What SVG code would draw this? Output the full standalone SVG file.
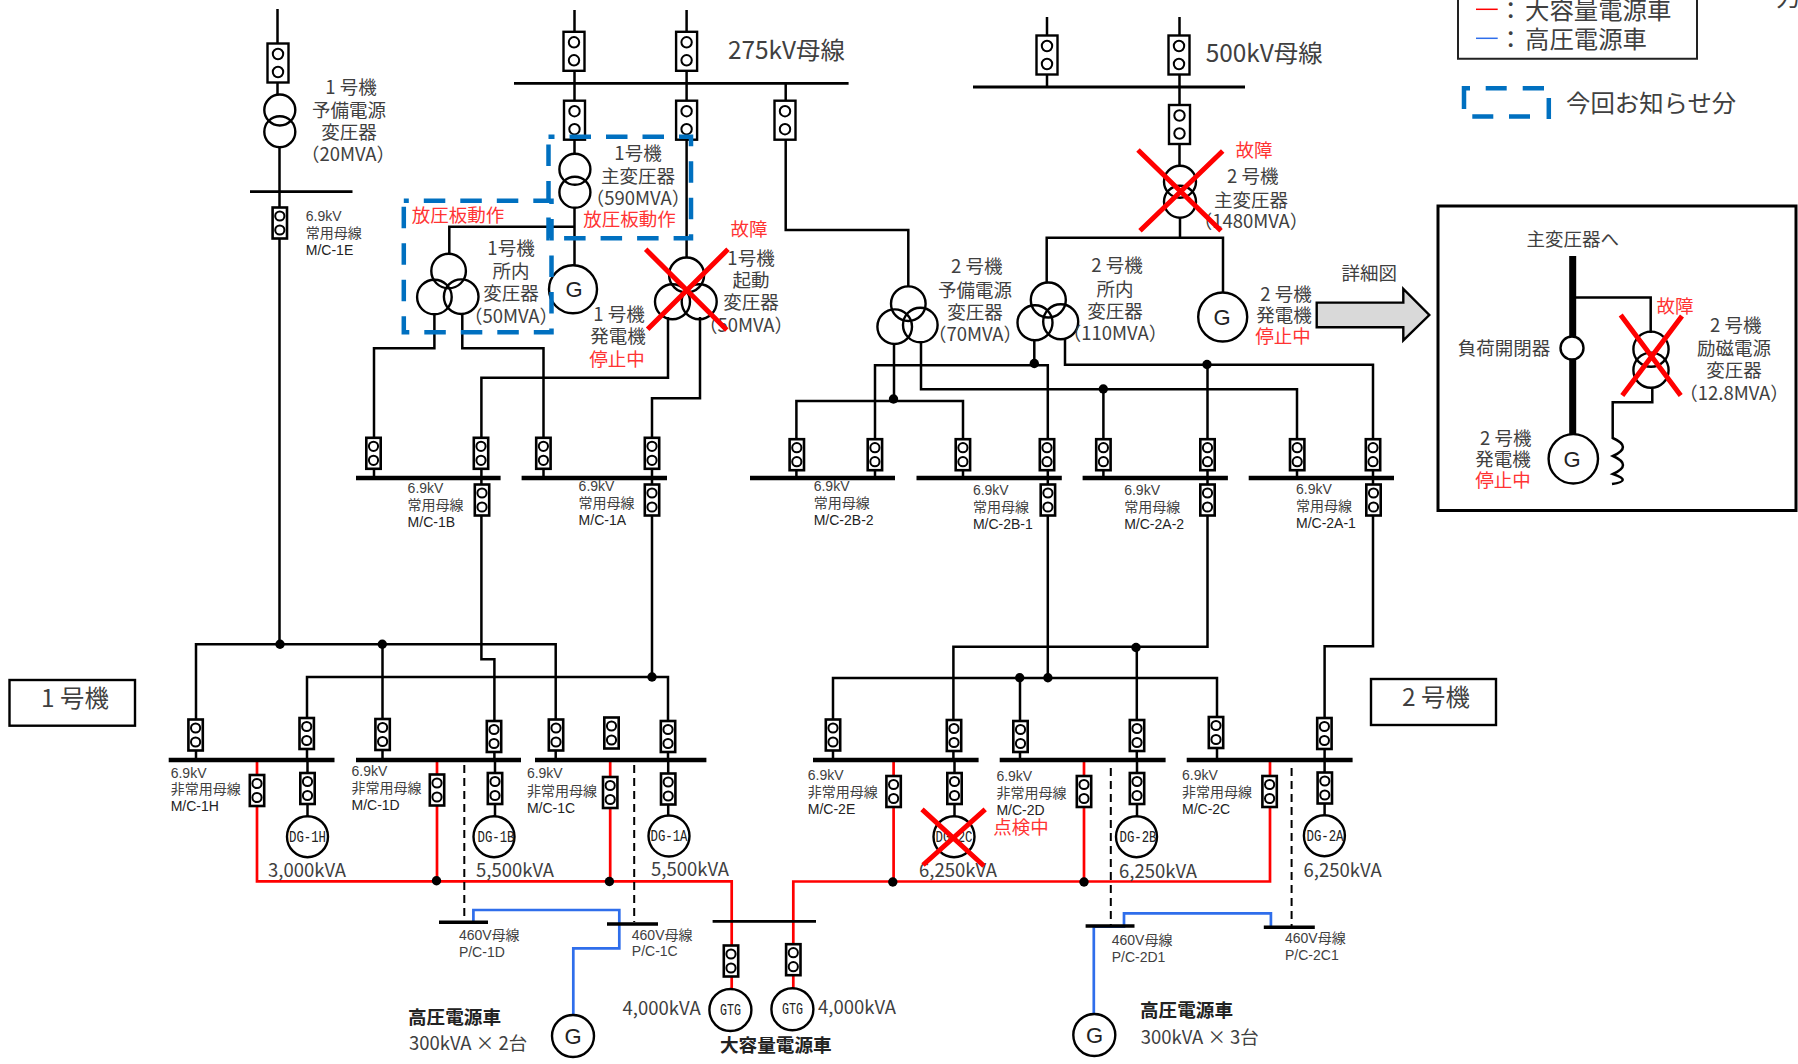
<svg xmlns="http://www.w3.org/2000/svg" width="1798" height="1064" viewBox="0 0 1798 1064">
<style>
.w{fill:none;stroke:#000;stroke-width:2.5}
.b{fill:none;stroke:#000;stroke-width:4.3}
.p{fill:none;stroke:#000;stroke-width:3.5}
.r{fill:none;stroke:#f00;stroke-width:2.7}
.u{fill:none;stroke:#2f6eeb;stroke-width:2.7}
.x{fill:none;stroke:#f00;stroke-width:5}
.c{fill:none;stroke:#000;stroke-width:2.4}
.n{fill:#fff;stroke:#000;stroke-width:2.4}
.dot{fill:#000}
.da{fill:none;stroke:#000;stroke-width:2;stroke-dasharray:8 5}
.z{fill:none;stroke:#0070c0;stroke-width:4.5;stroke-dasharray:21.5 15}
text{font-family:"Noto Sans CJK JP","Noto Sans",sans-serif;fill:#404040}
.t{font-size:18.5px;text-anchor:middle}
.big{font-size:24.4px}
.red{fill:#ff3333}
.l{font-family:"Liberation Sans","Noto Sans CJK JP",sans-serif;font-size:14px}
.m{fill:#222}
.k{font-size:18.6px;font-weight:700;fill:#222}
.g{font-family:"Liberation Sans",sans-serif;font-size:22px;text-anchor:middle;fill:#222}
.dg{font-family:"Liberation Mono",monospace;font-size:16px;text-anchor:middle;fill:#222}
.kv{font-size:18.5px}
</style>
<defs>
<g id="L"><rect x="-10.5" y="-19.5" width="21" height="39" fill="#fff" stroke="#000" stroke-width="2.4"/><circle cy="-9" r="5.2" fill="#fff" stroke="#000" stroke-width="2"/><circle cy="9" r="5.2" fill="#fff" stroke="#000" stroke-width="2"/></g>
<g id="S"><rect x="-7.2" y="-15.5" width="14.4" height="31" fill="#fff" stroke="#000" stroke-width="2.6"/><circle cy="-7" r="4.6" fill="#fff" stroke="#000" stroke-width="2"/><circle cy="7" r="4.6" fill="#fff" stroke="#000" stroke-width="2"/></g>
</defs>
<rect width="1798" height="1064" fill="#fff"/>

<g id="connectors">
<path class="w" d="M277.5 9V95M279.5 147V644"/>
<path class="w" d="M574.5 10V154M574.5 208V266M686.6 10V258"/>
<path class="w" d="M785.7 83V230H908.3V287"/>
<path class="w" d="M574.5 226.7H449.3V254"/>
<path class="w" d="M434.4 314V348.3H374V478M462.3 314V348.3H543.5V478"/>
<path class="w" d="M668 317V377.7H481.4V659.3H494.4V760M700 317V398.3H652V677"/>
<path class="w" d="M196 760V644.3H555.7V760M382.5 644.3V760M307 760V677H668V760"/>
<path class="w" d="M307.5 760V816M495 760V816M668.2 760V816"/>
<path class="w" d="M1047 17V87M1179.5 17V166M1180 217V237.7M1046.7 283V237.7H1223V293"/>
<path class="w" d="M894 343V401M796.4 478V401H963V478"/>
<path class="w" d="M875 478V365.3H1047.8V678M1034.3 339V365"/>
<path class="w" d="M921 343V389.3H1297V478M1103.4 389.3V478"/>
<path class="w" d="M1065 338V364.7H1373V646.3H1324.6V760M1207.5 364.7V646.7H953.4V760M1136.8 646.7V760"/>
<path class="w" d="M833 760V678H1217V760M1020 678V760"/>
<path class="w" d="M954.5 760V816M1137 760V816M1324.6 760V815"/>
<path class="r" d="M257 760V881.3H731.7V989M437 760V881M610.2 760V881"/>
<path class="r" d="M793.3 988V881.5H1270V760M893.6 760V881M1084 760V881"/>
<path class="da" d="M464.3 765V920M634.2 765V922M1110.8 768V925M1291.6 768V926"/>
<path class="u" d="M473.4 921V910H619.3V948.3H573.3V1015"/>
<path class="u" d="M1093.8 1015V926.7H1124V913.3H1270.9V927"/>
<path class="b" style="stroke-width:2.8" d="M514 83.3H848.6M973 87H1245M250 191.7H352.5M712.6 921.3H816"/>
<path class="b" d="M356 478H500.6M521.6 478H667M750 478H895M916.5 478H1061.8M1082.6 478H1227.9M1248.7 478H1394"/>
<path class="b" d="M168.7 760H334.5M356 760H521M535 760H706.4M813 760H978.6M999.7 760H1165.6M1186.7 760H1352.6"/>
<path class="p" d="M439 922.3H488M607 924H658M1085.6 926H1134.5M1263.8 927.3H1314.8"/>
<g class="dot">
<circle cx="280" cy="644.3" r="4.7"/><circle cx="382.3" cy="644.3" r="4.7"/><circle cx="652" cy="677" r="4.7"/>
<circle cx="893.5" cy="399" r="4.7"/><circle cx="1034.3" cy="363.5" r="4.7"/><circle cx="1103.3" cy="389" r="4.7"/><circle cx="1207" cy="364.5" r="4.7"/>
<circle cx="1136" cy="647.5" r="4.7"/><circle cx="1019.7" cy="677.7" r="4.7"/><circle cx="1047.9" cy="677.7" r="4.7"/>
<circle cx="436.5" cy="880.7" r="4.7"/><circle cx="609.4" cy="881.5" r="4.7"/><circle cx="892.8" cy="882" r="4.7"/><circle cx="1084" cy="882" r="4.7"/>
</g>
</g>

<g id="breakers">
<g id="cb-01"><use href="#L" x="278" y="63"/></g>
<g id="cb-02"><use href="#S" x="279.8" y="223"/></g>
<g id="cb-03"><use href="#L" x="574" y="51.3"/></g>
<g id="cb-04"><use href="#L" x="686.6" y="51.3"/></g>
<g id="cb-05"><use href="#L" x="574.5" y="120.2"/></g>
<g id="cb-06"><use href="#L" x="686.6" y="120.2"/></g>
<g id="cb-07"><use href="#L" x="785" y="120.2"/></g>
<g id="cb-08"><use href="#L" x="1047" y="55"/></g>
<g id="cb-09"><use href="#L" x="1179" y="55"/></g>
<g id="cb-10"><use href="#L" x="1179.5" y="124.5"/></g>
<g id="cb-11"><use href="#S" x="373.5" y="453.3"/></g>
<g id="cb-12"><use href="#S" x="481" y="453.3"/></g>
<g id="cb-13"><use href="#S" x="543.4" y="453.3"/></g>
<g id="cb-14"><use href="#S" x="652" y="453.3"/></g>
<g id="cb-15"><use href="#S" x="482" y="500"/></g>
<g id="cb-16"><use href="#S" x="652" y="500"/></g>
<g id="cb-17"><use href="#S" x="796.8" y="454.7"/></g>
<g id="cb-18"><use href="#S" x="874.9" y="454.7"/></g>
<g id="cb-19"><use href="#S" x="962.9" y="454.7"/></g>
<g id="cb-20"><use href="#S" x="1047" y="454.7"/></g>
<g id="cb-21"><use href="#S" x="1103.4" y="454.7"/></g>
<g id="cb-22"><use href="#S" x="1207.5" y="454.7"/></g>
<g id="cb-23"><use href="#S" x="1297.2" y="454.7"/></g>
<g id="cb-24"><use href="#S" x="1373" y="454.7"/></g>
<g id="cb-25"><use href="#S" x="1047.9" y="500"/></g>
<g id="cb-26"><use href="#S" x="1207.5" y="500"/></g>
<g id="cb-27"><use href="#S" x="1373.5" y="500"/></g>
<g id="cb-28"><use href="#S" x="195.6" y="735"/></g>
<g id="cb-29"><use href="#S" x="306.7" y="733.5"/></g>
<g id="cb-30"><use href="#S" x="382.6" y="734.5"/></g>
<g id="cb-31"><use href="#S" x="494" y="736.5"/></g>
<g id="cb-32"><use href="#S" x="556" y="735"/></g>
<g id="cb-33"><use href="#S" x="611.5" y="733"/></g>
<g id="cb-34"><use href="#S" x="668" y="736.5"/></g>
<g id="cb-35"><use href="#S" x="833" y="735"/></g>
<g id="cb-36"><use href="#S" x="954" y="735.5"/></g>
<g id="cb-37"><use href="#S" x="1020.5" y="736.5"/></g>
<g id="cb-38"><use href="#S" x="1137" y="735.5"/></g>
<g id="cb-39"><use href="#S" x="1216" y="732.5"/></g>
<g id="cb-40"><use href="#S" x="1324.4" y="733.5"/></g>
<g id="cb-41"><use href="#S" x="257" y="790.5"/></g>
<g id="cb-42"><use href="#S" x="307.5" y="788.5"/></g>
<g id="cb-43"><use href="#S" x="437" y="790"/></g>
<g id="cb-44"><use href="#S" x="495" y="788.5"/></g>
<g id="cb-45"><use href="#S" x="610.2" y="792.5"/></g>
<g id="cb-46"><use href="#S" x="668.2" y="789"/></g>
<g id="cb-47"><use href="#S" x="893.6" y="791.5"/></g>
<g id="cb-48"><use href="#S" x="954.5" y="788.5"/></g>
<g id="cb-49"><use href="#S" x="1084" y="791.5"/></g>
<g id="cb-50"><use href="#S" x="1137" y="788.5"/></g>
<g id="cb-51"><use href="#S" x="1269.6" y="791.5"/></g>
<g id="cb-52"><use href="#S" x="1324.8" y="788"/></g>
<g id="cb-53"><use href="#S" x="731" y="961"/></g>
<g id="cb-54"><use href="#S" x="793.3" y="959.7"/></g>
</g>

<g id="tx-1-reserve"><circle class="c" cx="279.8" cy="110" r="15.5"/><circle class="c" cx="279.8" cy="131.7" r="15.5"/>
<text class="t" x="351" y="94">1 号機</text><text class="t" x="349" y="116.5">予備電源</text><text class="t" x="349" y="138.6">変圧器</text><text class="t" x="348" y="161">（20MVA）</text></g>

<g id="tx-1-main"><circle class="c" cx="574.9" cy="169.3" r="15.5"/><circle class="c" cx="574.9" cy="192.3" r="15.5"/>
<text class="t" x="638" y="160">1号機</text><text class="t" x="638" y="183">主変圧器</text><text class="t" x="638" y="205">（590MVA）</text><text class="t red" x="629.6" y="226">放圧板動作</text></g>

<g id="tx-1-house"><circle class="c" cx="448.6" cy="271" r="17.3"/><circle class="c" cx="434.4" cy="297" r="17.3"/><circle class="c" cx="461.2" cy="296.7" r="17.3"/>
<text class="t red" x="458" y="221.5">放圧板動作</text><text class="t" x="511" y="255">1号機</text><text class="t" x="511" y="278">所内</text><text class="t" x="511" y="300">変圧器</text><text class="t" x="511" y="322.5">（50MVA）</text></g>

<g id="gen-1"><circle class="n" cx="573" cy="289.3" r="24"/><text class="g" x="574" y="297">G</text>
<text class="t" x="619" y="320.5">1 号機</text><text class="t" x="618" y="342.5">発電機</text><text class="t red" x="617" y="365.5">停止中</text></g>

<g id="tx-1-start"><circle class="c" cx="686.6" cy="275" r="17.5"/><circle class="c" cx="672.5" cy="301.7" r="17.5"/><circle class="c" cx="699.2" cy="301.7" r="17.5"/>
<text class="t red" x="749" y="235.5">故障</text><text class="t" x="751" y="265">1号機</text><text class="t" x="751" y="286.5">起動</text><text class="t" x="751" y="309">変圧器</text><text class="t" x="746" y="331.5">（50MVA）</text>
<path class="x" d="M645.7 249.3L726.8 330M728 249.3L647.6 329.3"/></g>

<g id="tx-2-reserve"><circle class="c" cx="908.3" cy="303.7" r="17.3"/><circle class="c" cx="894.7" cy="326.7" r="17.3"/><circle class="c" cx="920.3" cy="325" r="17.3"/>
<text class="t" x="976.7" y="273">2 号機</text><text class="t" x="975" y="296.5">予備電源</text><text class="t" x="975" y="318.5">変圧器</text><text class="t" x="975" y="340.5">（70MVA）</text></g>

<g id="tx-2-house"><circle class="c" cx="1048.3" cy="300" r="17.5"/><circle class="c" cx="1035" cy="322.7" r="17.5"/><circle class="c" cx="1060.7" cy="321.7" r="17.5"/>
<text class="t" x="1117" y="272">2 号機</text><text class="t" x="1115" y="295.5">所内</text><text class="t" x="1115" y="317.5">変圧器</text><text class="t" x="1115" y="340">（110MVA）</text></g>

<g id="tx-2-main"><circle class="c" cx="1180" cy="181.7" r="16"/><circle class="c" cx="1180" cy="201.7" r="16"/>
<text class="t red" x="1254" y="156.5">故障</text><text class="t" x="1252.7" y="183">2 号機</text><text class="t" x="1251" y="206.5">主変圧器</text><text class="t" x="1251" y="228">（1480MVA）</text>
<path class="x" d="M1138 150L1221 230.7M1222.7 151L1140 230.7"/></g>

<g id="gen-2"><circle class="n" cx="1222.7" cy="317" r="24.5"/><text class="g" x="1222" y="325">G</text>
<text class="t" x="1286" y="300.5">2 号機</text><text class="t" x="1284" y="321.5">発電機</text><text class="t red" x="1283" y="342.5">停止中</text></g>

<g id="dg-1h"><circle class="n" cx="307.5" cy="836.7" r="20.5"/><text class="dg" x="307.5" y="842" textLength="37" lengthAdjust="spacingAndGlyphs">DG-1H</text><text class="kv" x="268" y="876.5">3,000kVA</text></g>
<g id="dg-1b"><circle class="n" cx="494" cy="836.7" r="20.5"/><text class="dg" x="496" y="842" textLength="37" lengthAdjust="spacingAndGlyphs">DG-1B</text><text class="kv" x="476" y="876.5">5,500kVA</text></g>
<g id="dg-1a"><circle class="n" cx="669" cy="836" r="20.5"/><text class="dg" x="669" y="841" textLength="37" lengthAdjust="spacingAndGlyphs">DG-1A</text><text class="kv" x="651" y="875.5">5,500kVA</text></g>
<g id="dg-2c"><circle class="n" cx="954" cy="836.7" r="20.5"/><text class="dg" x="954" y="842" textLength="37" lengthAdjust="spacingAndGlyphs">DG-2C</text><text class="kv" x="919" y="876.5">6,250kVA</text><text class="t red" x="1021" y="833.5">点検中</text>
<path class="x" d="M922 809.3L984 866M985.2 809.3L923 865"/></g>
<g id="dg-2b"><circle class="n" cx="1136.5" cy="836.7" r="20.5"/><text class="dg" x="1138" y="842" textLength="37" lengthAdjust="spacingAndGlyphs">DG-2B</text><text class="kv" x="1119" y="877.5">6,250kVA</text></g>
<g id="dg-2a"><circle class="n" cx="1324.4" cy="835.7" r="20.5"/><text class="dg" x="1325" y="841" textLength="37" lengthAdjust="spacingAndGlyphs">DG-2A</text><text class="kv" x="1303.6" y="876.5">6,250kVA</text></g>

<g id="gtg-1"><circle class="n" cx="730.4" cy="1010" r="21"/><text class="dg" x="730.4" y="1015" textLength="21" lengthAdjust="spacingAndGlyphs">GTG</text><text class="kv" x="622.6" y="1014.5">4,000kVA</text></g>
<g id="gtg-2"><circle class="n" cx="792.4" cy="1009.3" r="21"/><text class="dg" x="792.4" y="1014" textLength="21" lengthAdjust="spacingAndGlyphs">GTG</text><text class="kv" x="818" y="1013.5">4,000kVA</text></g>
<g id="gtg-label"><text class="k" x="720" y="1052">大容量電源車</text></g>

<g id="hv-left"><circle class="n" cx="573" cy="1036" r="21"/><text class="g" x="573" y="1043.5">G</text><text class="k" x="408" y="1024">高圧電源車</text><text class="kv" x="409" y="1050">300kVA × 2台</text></g>
<g id="hv-right"><circle class="n" cx="1094.3" cy="1035" r="21"/><text class="g" x="1094.5" y="1042.5">G</text><text class="k" x="1140" y="1017">高圧電源車</text><text class="kv" x="1140.7" y="1044">300kVA × 3台</text></g>

<g id="bus-labels">
<text class="big" x="728" y="59">275kV母線</text>
<text class="big" x="1205.7" y="62">500kV母線</text>
<text class="l" x="305.8" y="221">6.9kV</text><text class="l" x="305.8" y="237.7">常用母線</text><text class="l m" x="305.8" y="255">M/C-1E</text>
<text class="l" x="407.6" y="493.3">6.9kV</text><text class="l" x="407.6" y="510">常用母線</text><text class="l m" x="407.6" y="527.3">M/C-1B</text>
<text class="l" x="578.6" y="491">6.9kV</text><text class="l" x="578.6" y="507.7">常用母線</text><text class="l m" x="578.6" y="525">M/C-1A</text>
<text class="l" x="813.7" y="491">6.9kV</text><text class="l" x="813.7" y="508.3">常用母線</text><text class="l m" x="813.7" y="525">M/C-2B-2</text>
<text class="l" x="972.9" y="495">6.9kV</text><text class="l" x="972.9" y="511.7">常用母線</text><text class="l m" x="972.9" y="529">M/C-2B-1</text>
<text class="l" x="1124.2" y="495">6.9kV</text><text class="l" x="1124.2" y="511.7">常用母線</text><text class="l m" x="1124.2" y="529">M/C-2A-2</text>
<text class="l" x="1296" y="494">6.9kV</text><text class="l" x="1296" y="511">常用母線</text><text class="l m" x="1296" y="528.3">M/C-2A-1</text>
<text class="l" x="170.7" y="777.7">6.9kV</text><text class="l" x="170.7" y="793.7">非常用母線</text><text class="l m" x="170.7" y="811">M/C-1H</text>
<text class="l" x="351.5" y="775.7">6.9kV</text><text class="l" x="351.5" y="793.3">非常用母線</text><text class="l m" x="351.5" y="810">M/C-1D</text>
<text class="l" x="526.9" y="778.3">6.9kV</text><text class="l" x="526.9" y="795.7">非常用母線</text><text class="l m" x="526.9" y="813">M/C-1C</text>
<text class="l" x="807.8" y="780">6.9kV</text><text class="l" x="807.8" y="796.7">非常用母線</text><text class="l m" x="807.8" y="814">M/C-2E</text>
<text class="l" x="996.4" y="780.7">6.9kV</text><text class="l" x="996.4" y="797.7">非常用母線</text><text class="l m" x="996.4" y="815">M/C-2D</text>
<text class="l" x="1182" y="780">6.9kV</text><text class="l" x="1182" y="796.7">非常用母線</text><text class="l m" x="1182" y="814">M/C-2C</text>
<text class="l" x="458.9" y="940">460V母線</text><text class="l" x="458.9" y="957.3">P/C-1D</text>
<text class="l" x="631.8" y="940">460V母線</text><text class="l" x="631.8" y="956">P/C-1C</text>
<text class="l" x="1111.7" y="945">460V母線</text><text class="l" x="1111.7" y="962.3">P/C-2D1</text>
<text class="l" x="1285" y="943.3">460V母線</text><text class="l" x="1285" y="960.3">P/C-2C1</text>
</g>

<g id="unit-1"><rect x="9.5" y="680" width="125.5" height="45.7" fill="#fff" stroke="#000" stroke-width="2.4"/><text class="big" x="75" y="707" text-anchor="middle">1 号機</text></g>
<g id="unit-2"><rect x="1371" y="679" width="125" height="46" fill="#fff" stroke="#000" stroke-width="2.4"/><text class="big" x="1436" y="706" text-anchor="middle">2 号機</text></g>

<g id="highlight">
<rect class="z" x="548.5" y="136.7" width="142.5" height="101.6" stroke-dashoffset="15.5"/>
<rect class="z" x="403.8" y="200.7" width="147.7" height="131.6" stroke-dashoffset="16.5"/>
</g>

<g id="legend">
<path fill="none" stroke="#222" stroke-width="2" d="M1458 -2V58.7H1697V-2"/>
<path fill="none" stroke="#f00" stroke-width="1.5" d="M1476 9.3H1497.7"/>
<path fill="none" stroke="#2f6eeb" stroke-width="1.5" d="M1476 38.3H1497.7"/>
<text class="big" x="1510.7" y="19" text-anchor="middle">：</text><text class="big" x="1525" y="19">大容量電源車</text>
<text class="big" x="1510.7" y="48" text-anchor="middle">：</text><text class="big" x="1525" y="48">高圧電源車</text>
<text class="big" x="1776" y="6">力</text>
<path fill="none" stroke="#0070c0" stroke-width="4.5" d="M1464 109V88.3H1470M1485.7 88.3H1506.7M1522.7 88.3H1544M1548.8 98V119M1530 116.5H1509M1493.3 116.5H1472.3"/>
<text class="big" x="1566" y="112">今回お知らせ分</text>
</g>

<g id="arrow-detail"><text class="t" x="1369.3" y="279.5">詳細図</text>
<path d="M1316.7 302.6H1403.3V289L1429.3 315L1403.3 340.4V327.3H1316.7Z" fill="#d9d9d9" stroke="#000" stroke-width="2.4"/></g>

<g id="detail">
<rect x="1438" y="206" width="358" height="304.5" fill="none" stroke="#000" stroke-width="3"/>
<text class="t" x="1572.7" y="245.5">主変圧器へ</text>
<path fill="none" stroke="#000" stroke-width="7" d="M1572.7 256V436"/>
<path class="w" d="M1575 297.5H1650.7V333M1652.3 387V402.3H1612.7V438Q1633 447 1613 456Q1633 465 1613 474Q1633 481 1612 484"/>
<circle class="n" cx="1572" cy="348" r="11.5"/>
<circle class="c" cx="1651" cy="349.2" r="17.6"/><circle class="c" cx="1651" cy="370.2" r="17.6"/>
<circle class="n" cx="1573.3" cy="458.8" r="24.7"/><text class="g" x="1572" y="466.5">G</text>
<text class="t red" x="1675" y="312.5">故障</text>
<text class="t" x="1735.7" y="331.5">2 号機</text><text class="t" x="1734" y="354.5">励磁電源</text><text class="t" x="1734" y="376.5">変圧器</text><text class="t" x="1734" y="399.5">（12.8MVA）</text>
<text class="t" x="1504" y="354.5">負荷開閉器</text>
<text class="t" x="1505.7" y="445">2 号機</text><text class="t" x="1503" y="465.5">発電機</text><text class="t red" x="1503" y="486.5">停止中</text>
<path class="x" d="M1620.7 315L1680.7 395.5M1682 316L1622.3 395.5"/>
</g>
</svg>
